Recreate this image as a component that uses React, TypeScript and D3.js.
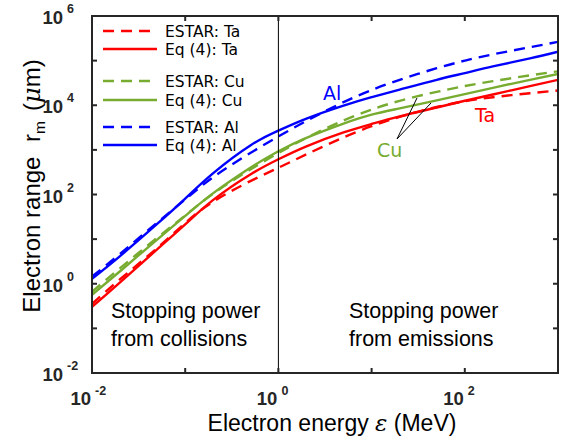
import React from 'react';
import * as d3 from 'd3';

// electron energy grid (MeV)
const energy = [0.01, 0.02, 0.05, 0.1, 0.2, 0.5, 1, 2, 5, 10, 20, 50, 100, 200, 500, 1000];

// log10 of range r_m (um)
const taEstar = [-0.45, 0.1, 0.8, 1.36, 1.84, 2.3, 2.6, 2.9, 3.28, 3.53, 3.74, 3.96, 4.09, 4.18, 4.27, 4.33];
const taEq = [-0.52, 0.03, 0.77, 1.33, 1.88, 2.45, 2.79, 3.08, 3.39, 3.58, 3.75, 3.95, 4.1, 4.24, 4.43, 4.57];
const cuEstar = [-0.18, 0.35, 1.03, 1.53, 2.02, 2.56, 2.93, 3.27, 3.66, 3.9, 4.1, 4.3, 4.43, 4.54, 4.67, 4.76];
const cuEq = [-0.25, 0.28, 0.99, 1.52, 2.03, 2.6, 2.97, 3.27, 3.59, 3.79, 3.93, 4.11, 4.25, 4.39, 4.57, 4.7];
const alEstar = [0.16, 0.67, 1.37, 1.89, 2.39, 2.93, 3.3, 3.65, 4.07, 4.34, 4.57, 4.83, 5.0, 5.14, 5.3, 5.42];
const alEq = [0.11, 0.62, 1.34, 1.91, 2.48, 3.1, 3.43, 3.7, 3.99, 4.18, 4.35, 4.57, 4.72, 4.87, 5.05, 5.2];

const xTickExp = [-2, -1, 0, 1, 2, 3];
const xLabelExp = [-2, 0, 2];
const yTickExp = [-2, -1, 0, 1, 2, 3, 4, 5, 6];
const yLabelExp = [-2, 0, 2, 4, 6];

const RED = '#ff0000';
const GREEN = '#77ac30';
const BLUE = '#0000ff';

const series = [
  { name: 'ESTAR: Ta', vals: taEstar, color: RED, dash: true },
  { name: 'Eq (4): Ta', vals: taEq, color: RED, dash: false },
  { name: 'ESTAR: Cu', vals: cuEstar, color: GREEN, dash: true },
  { name: 'Eq (4): Cu', vals: cuEq, color: GREEN, dash: false },
  { name: 'ESTAR: Al', vals: alEstar, color: BLUE, dash: true },
  { name: 'Eq (4): Al', vals: alEq, color: BLUE, dash: false },
];
const legendY = [31, 49, 81, 100, 127, 145];

const W = 563, H = 442;
const L = 92, R = 558, T = 16, B = 373;

export default function App() {
  const x = d3.scaleLog().domain([1e-2, 1e3]).range([L, R]);
  const y = d3.scaleLog().domain([1e-2, 1e6]).range([B, T]);

  const line = d3.line<[number, number]>()
    .x(d => x(d[0]))
    .y(d => y(d[1]))
    .curve(d3.curveNatural);

  const axisColor = '#262626';
  const tickFont = "'Liberation Sans', Arial, sans-serif";
  const labelFont = "'Liberation Sans', Arial, sans-serif";
  const legFont = "'DejaVu Sans', sans-serif";

  return (
    <svg width={W} height={H} style={{ position: 'absolute', left: 0, top: 0, background: '#fff' }}>
      <defs>
        <clipPath id="plot">
          <rect x={L} y={T} width={R - L} height={B - T} />
        </clipPath>
      </defs>
      <rect x={0} y={0} width={W} height={H} fill="#fff" />

      {/* curves */}
      <g clipPath="url(#plot)">
        {series.map(s => (
          <path key={s.name}
            d={line(energy.map((e, i) => [e, Math.pow(10, s.vals[i])] as [number, number])) || ''}
            fill="none" stroke={s.color} strokeWidth={2.4}
            strokeDasharray={s.dash ? '11,7' : undefined} />
        ))}
      </g>

      {/* divider at 1 MeV */}
      <line x1={x(1)} x2={x(1)} y1={T} y2={B} stroke="#000" strokeWidth={1} />

      {/* box + ticks */}
      <rect x={L} y={T} width={R - L} height={B - T} fill="none" stroke={axisColor} strokeWidth={2} />
      {xTickExp.map(k => (
        <g key={'xt' + k} stroke={axisColor} strokeWidth={2}>
          <line x1={x(10 ** k)} x2={x(10 ** k)} y1={B} y2={B - 5} />
          <line x1={x(10 ** k)} x2={x(10 ** k)} y1={T} y2={T + 5} />
        </g>
      ))}
      {yTickExp.map(k => (
        <g key={'yt' + k} stroke={axisColor} strokeWidth={2}>
          <line x1={L} x2={L + 5} y1={y(10 ** k)} y2={y(10 ** k)} />
          <line x1={R} x2={R - 5} y1={y(10 ** k)} y2={y(10 ** k)} />
        </g>
      ))}

      {/* tick labels */}
      {xLabelExp.map(k => (
        <g key={'xl' + k} fill={axisColor} fontFamily={tickFont} fontWeight="bold">
          <text x={x(10 ** k) - 1} y={B + 32} fontSize={18.5} textAnchor="end">10</text>
          <text x={x(10 ** k) + 3} y={B + 22} fontSize={12.5}>{k < 0 ? '-' + Math.abs(k) : k}</text>
        </g>
      ))}
      {yLabelExp.map(k => (
        <g key={'yl' + k} fill={axisColor} fontFamily={tickFont} fontWeight="bold">
          <text x={63} y={y(10 ** k) + 8} fontSize={18.5} textAnchor="end">10</text>
          <text x={67} y={y(10 ** k) - 3} fontSize={12.5}>{k < 0 ? '-' + Math.abs(k) : k}</text>
        </g>
      ))}

      {/* axis titles */}
      <text x={332} y={431} fontSize={23} fontFamily={labelFont} textAnchor="middle" fill="#000">
        Electron energy <tspan fontStyle="italic" fontFamily="'DejaVu Serif', serif">ε</tspan> (MeV)
      </text>
      <text transform="translate(40,186) rotate(-90)" fontSize={24} fontFamily={labelFont} textAnchor="middle" fill="#000">
        Electron range <tspan dx={8}>r</tspan><tspan fontSize={15.5} dy={5}>m</tspan>
        <tspan dy={-5} dx={10}>(</tspan><tspan fontStyle="italic" fontFamily="'DejaVu Serif', serif">μ</tspan>m)
      </text>

      {/* legend */}
      {series.map((s, i) => (
        <g key={'lg' + s.name}>
          <line x1={103} x2={157} y1={legendY[i]} y2={legendY[i]} stroke={s.color} strokeWidth={2.4}
            strokeDasharray={s.dash ? '11,7' : undefined} />
          <text x={165} y={legendY[i] + 5.5} fontSize={15.5} fontFamily={legFont} fill="#000">{s.name}</text>
        </g>
      ))}

      {/* curve labels */}
      <text x={323} y={100} fontSize={19} fontFamily={legFont} fill={BLUE}>Al</text>
      <text x={475} y={122} fontSize={19} fontFamily={legFont} fill={RED}>Ta</text>
      <text x={377} y={157} fontSize={19} fontFamily={legFont} fill={GREEN}>Cu</text>
      <line x1={397} y1={139} x2={417} y2={98} stroke="#000" strokeWidth={1} />
      <line x1={397} y1={139} x2={431} y2={103} stroke="#000" strokeWidth={1} />

      {/* regime notes */}
      <text fontSize={21.5} fontFamily={labelFont} fill="#000">
        <tspan x={111} y={318}>Stopping power</tspan>
        <tspan x={111} y={346}>from collisions</tspan>
      </text>
      <text fontSize={21.5} fontFamily={labelFont} fill="#000">
        <tspan x={349} y={318}>Stopping power</tspan>
        <tspan x={349} y={346}>from emissions</tspan>
      </text>
    </svg>
  );
}
